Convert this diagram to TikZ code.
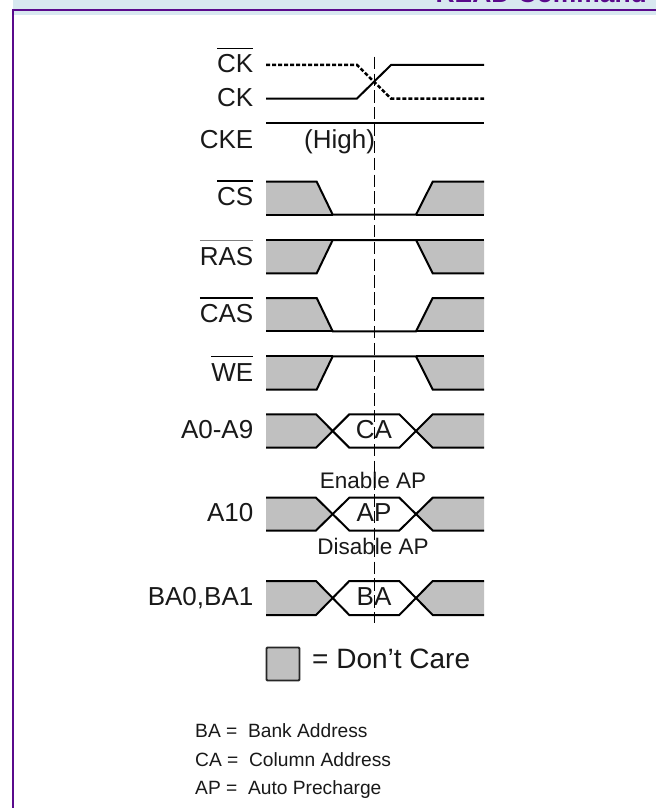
\documentclass[tikz,border=0pt]{standalone}
\usepackage{fontspec}
\setmainfont{Liberation Sans}
\definecolor{band}{HTML}{D8E8F0}
\definecolor{frameP}{HTML}{5A0A8C}
\definecolor{care}{HTML}{C0C0C0}
\newcommand\ovl[2][black]{\leavevmode\sbox0{#2}\rlap{\textcolor{#1}{\raisebox{.93em}{\rule{\wd0}{.05em}}}}\box0 }
\tikzset{
  sig/.style={line width=2pt,black,line join=miter},
  dot/.style={line width=2.5pt,black,dash pattern=on 4pt off 2pt},
  carefill/.style={fill=care,draw=none},
  lab/.style={font=\fontsize{26}{26}\selectfont,anchor=base east,inner sep=0pt,text=black!90},
  bus/.style={font=\fontsize{26}{26}\selectfont,anchor=base,inner sep=0pt,text=black!90},
  note/.style={font=\fontsize{22.5}{22.5}\selectfont,anchor=base,inner sep=0pt,text=black!90},
  key/.style={font=\fontsize{19.2}{19.2}\selectfont,anchor=base west,inner sep=0pt,text=black!90},
  cursor/.style={line width=1.3pt,black,dash pattern=on 12.3pt off 4.53pt}
}
\begin{document}
\begin{tikzpicture}[x=1pt,y=-1pt]
\useasboundingbox (0,0) rectangle (656,808);
\fill[white] (0,0) rectangle (656,808);
\begin{scope}
\clip (0,0) rectangle (656,808);
\fill[band] (13,0) rectangle (656,15);
\node[font=\bfseries\fontsize{26.4}{26.4}\selectfont,text=frameP,anchor=base east,inner sep=0pt] (title) at (647,3) {READ Command};
\fill[frameP] (12,9) rectangle (656,11.5);
\fill[frameP] (12,9) rectangle (14.3,808);
\end{scope}
% clock
\draw[sig] (266,98.5) -- (357,98.5) -- (391,65) -- (484,65);
\draw[dot] (266,65) -- (357,65) -- (391,98.5) -- (484,98.5);
\draw[sig] (266,123.3) -- (484,123.3);
% control signals: low in the middle
\foreach \hi/\lo in {181.7/214.7,298/331.3}{
  \fill[carefill] (266,\hi) -- (316.7,\hi) -- (332.7,\lo) -- (266,\lo) -- cycle;
  \fill[carefill] (484,\hi) -- (432.7,\hi) -- (416,\lo) -- (484,\lo) -- cycle;
  \draw[sig] (266,\hi) -- (316.7,\hi) -- (332.7,\lo) -- (416,\lo) -- (432.7,\hi) -- (484,\hi);
  \draw[sig] (266,\lo) -- (332.7,\lo);
  \draw[sig] (416,\lo) -- (484,\lo);
}
% control signals: high in the middle
\foreach \hi/\lo in {240/273.3,356.3/389.5}{
  \fill[carefill] (266,\lo) -- (316.7,\lo) -- (332.7,\hi) -- (266,\hi) -- cycle;
  \fill[carefill] (484,\lo) -- (432.7,\lo) -- (416,\hi) -- (484,\hi) -- cycle;
  \draw[sig] (266,\lo) -- (316.7,\lo) -- (332.7,\hi) -- (416,\hi) -- (432.7,\lo) -- (484,\lo);
  \draw[sig] (266,\hi) -- (332.7,\hi);
  \draw[sig] (416,\hi) -- (484,\hi);
}
% buses
\foreach \hi/\lo in {414.3/447.7,497.7/530.5,581/615}{
  \pgfmathsetmacro\mid{(\hi+\lo)/2}
  \fill[carefill] (266,\hi) -- (316,\hi) -- (332.7,\mid) -- (316,\lo) -- (266,\lo) -- cycle;
  \fill[carefill] (484,\hi) -- (432.7,\hi) -- (416,\mid) -- (432.7,\lo) -- (484,\lo) -- cycle;
  \draw[sig] (266,\hi) -- (316,\hi) -- (349.3,\lo) -- (399.3,\lo) -- (432.7,\hi) -- (484,\hi);
  \draw[sig] (266,\lo) -- (316,\lo) -- (349.3,\hi) -- (399.3,\hi) -- (432.7,\lo) -- (484,\lo);
}
% labels
\node[lab] (ckbar) at (253.5,73) {\ovl{CK}};
\node[lab] (ck) at (253.5,106.7) {CK};
\node[lab] (cke) at (253.5,148.3) {CKE};
\node[bus,anchor=base west] (high) at (304,148.3) {(High)};
\node[lab] (cs) at (253.5,205.7) {\ovl{CS}};
\node[lab] (ras) at (253.5,265) {\ovl[gray]{RAS}};
\node[lab] (cas) at (253.5,322.7) {\ovl{CAS}};
\node[lab] (we) at (253.5,381) {\ovl{WE}};
\node[lab] (a09) at (253.5,438.3) {A0-A9};
\node[lab] (a10) at (253.5,521.7) {A10};
\node[lab] (ba01) at (253.5,605) {BA0,BA1};
\node[bus] (ca) at (374,438.3) {CA};
\node[bus] (ap) at (374,521.7) {AP};
\node[bus] (ba) at (374,605) {BA};
\node[note] (en) at (373,488) {Enable AP};
\node[note] (dis) at (373,554.5) {Disable AP};
% reference line
\coordinate (curtop) at (374.7,56.7);
\coordinate (curbot) at (374.7,622.7);
\draw[cursor] (curtop) -- (curbot);
% legend
\node[draw=black!85,fill=care,line width=1.8pt,rounded corners=1pt,minimum width=33pt,minimum height=33pt,inner sep=0pt] (box) at (283,664) {};
\node[font=\fontsize{28}{28}\selectfont,anchor=base west,inner sep=0pt,text=black!90] (dc) at (312,668.5) {= Don't Care};
\node[key] (k1) at (195,737.5) {BA =\ \ Bank Address};
\node[key] (k2) at (195,766) {CA =\ \ Column Address};
\node[key] (k3) at (195,794.5) {AP =\ \ Auto Precharge};
\end{tikzpicture}
\end{document}
